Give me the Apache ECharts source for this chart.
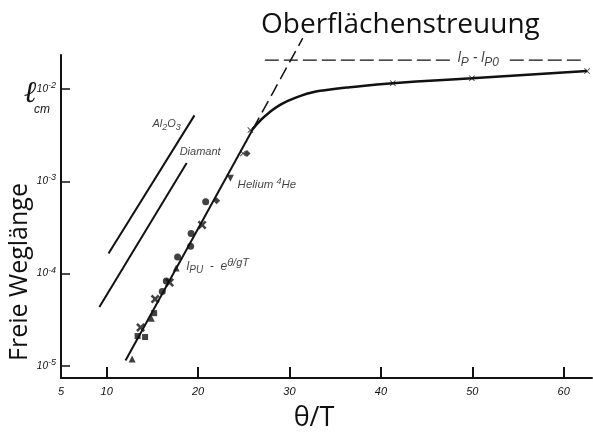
<!DOCTYPE html>
<html><head><meta charset="utf-8">
<script src="https://cdn.jsdelivr.net/npm/echarts@6/dist/echarts.min.js"></script>
<style>html,body{margin:0;padding:0;background:#fff}#c{width:593px;height:434px}</style>
</head><body><div id="c"></div>
<script>
// ---- data ----
const xTickValues = [10, 20, 30, 40, 50, 60];
const xLabelValues = [5, 10, 20, 30, 40, 50, 60];
const yTickValues = [1e-5, 1e-4, 1e-3, 1e-2];

const al2o3Line = [[10.2, 1.66e-4], [19.6, 5.2e-3]];
const diamantLine = [[9.2, 4.35e-5], [18.75, 1.58e-3]];
const puLine = [[12.06, 1.15e-5], [26.0, 3.69e-3]];
const surfaceDashed = [[26.0, 3.69e-3], [31.45, 3.57e-2]];
const lpLimitLeft = [[27.3, 2.06e-2], [48.0, 2.06e-2]];
const lpLimitRight = [[54.1, 2.06e-2], [62.1, 2.06e-2]];
const boundaryCurve = [[25.97, 3.69e-3], [26.96, 4.73e-3], [27.84, 5.64e-3], [28.93, 6.71e-3],
  [30.03, 7.60e-3], [31.12, 8.40e-3], [32.44, 9.20e-3], [33.86, 9.75e-3], [36.60, 1.05e-2],
  [41.31, 1.16e-2], [49.96, 1.31e-2], [62.56, 1.57e-2]];

const dotPoints = [[16.08, 6.40e-5], [16.52, 8.32e-5], [17.76, 1.52e-4], [19.18, 1.99e-4], [19.24, 2.73e-4], [20.83, 6.01e-4]];
const crossPoints = [[13.71, 2.61e-5], [15.30, 5.31e-5], [16.88, 8.02e-5], [20.44, 3.37e-4]];
const trianglePoints = [[12.78, 1.19e-5], [14.88, 3.30e-5], [17.60, 1.15e-4]];
const squarePoints = [[13.38, 2.11e-5], [14.20, 2.06e-5], [15.19, 3.74e-5]];
const diamondPoints = [[22.03, 6.19e-4], [25.35, 2.01e-3]];
const heliumPoints = [[23.53, 1.08e-3]];
const xMarkPoints = [[24.91, 2.01e-3], [25.72, 3.60e-3], [41.31, 1.16e-2], [49.96, 1.31e-2], [62.56, 1.57e-2]];

// annotation anchors [x, y, rich text]
const annotations = [
  [15.0, 4.18e-3, '{t|Al}{sub|2}{t|O}{sub|3}'],
  [17.98, 2.08e-3, '{t|Diamant}'],
  [24.32, 9.12e-4, '{m|Helium }{sup|4}{m|He}'],
  [18.74, 1.18e-4, '{u|l}{us|PU}{u|  -  e}{up|θ/gT}'],
  [48.4, 2.06e-2, '{L|l}{LS|P}{L| - l}{LS|P0}']
];

// ---- chart ----
const chart = echarts.init(document.getElementById('c'), null, {renderer: 'canvas'});
const FONT = 'Liberation Sans';
const it = (size, pad) => ({fontFamily: FONT, fontStyle: 'italic', fontSize: size, color: '#111', padding: pad || 0});
const richLbl = {
  t: it(11), sub: it(9, [6, 0, 0, 0]), sup: it(9, [0, 0, 7, 0]),
  m: it(11.5),
  u: it(12), us: it(10, [7, 0, 0, 0]), up: it(11, [0, 0, 9, 0]),
  L: it(14, [0, 0, 4, 0]), LS: it(12, [4, 0, 0, 0])
};
const crossPath = 'path://M0,2 L2,0 L5,3 L8,0 L10,2 L7,5 L10,8 L8,10 L5,7 L2,10 L0,8 L3,5 Z';
const thinX = 'path://M0,1 L1,0 L5,4 L9,0 L10,1 L6,5 L10,9 L9,10 L5,6 L1,10 L0,9 L4,5 Z';

const lineSeries = (data, w, extra) => Object.assign({
  type: 'line', data: data, symbol: 'none', silent: true,
  lineStyle: {color: '#111', width: w}
}, extra || {});
const scatterSeries = (data, symbol, size, extra) => Object.assign({
  type: 'scatter', data: data, symbol: symbol, symbolSize: size, silent: true,
  itemStyle: {color: '#111'}
}, extra || {});

chart.setOption({
  animation: false,
  backgroundColor: '#fff',
  grid: {left: 61, right: 1, top: 55, bottom: 56},
  xAxis: {
    type: 'value', min: 5, max: 63.1,
    axisLine: {lineStyle: {color: '#111', width: 2}},
    axisTick: {inside: true, length: 11, lineStyle: {color: '#111', width: 2}, customValues: xTickValues},
    axisLabel: {customValues: xLabelValues, fontFamily: FONT, fontStyle: 'italic', fontSize: 11, color: '#111', margin: 8},
    splitLine: {show: false}
  },
  yAxis: {
    type: 'log', logBase: 10, min: Math.pow(10, -5.13), max: Math.pow(10, -1.63),
    axisLine: {show: true, lineStyle: {color: '#111', width: 2}},
    axisTick: {show: true, inside: true, length: 9, lineStyle: {color: '#111', width: 1.5}, customValues: yTickValues},
    axisLabel: {
      customValues: yTickValues, margin: 5,
      formatter: v => '{b|10}{s|' + Math.round(Math.log10(v)) + '}',
      rich: {
        b: {fontFamily: FONT, fontStyle: 'italic', fontSize: 10, color: '#111'},
        s: {fontFamily: FONT, fontStyle: 'italic', fontSize: 9, color: '#111', padding: [0, 0, 7, 0]}
      }
    },
    splitLine: {show: false}
  },
  title: {
    text: 'Oberflächenstreuung', left: 256, top: 6,
    textStyle: {fontFamily: 'Open Sans', fontWeight: 'normal', fontSize: 28, color: '#111'}
  },
  graphic: [
    {type: 'text', x: 20, y: 272, rotation: Math.PI / 2,
     style: {text: 'Freie Weglänge', fontFamily: 'Open Sans', fontSize: 25, fill: '#111', align: 'center', verticalAlign: 'middle'}},
    {type: 'text', x: 314, y: 418,
     style: {text: 'θ/T', fontFamily: 'Open Sans', fontSize: 27, fill: '#111', align: 'center', verticalAlign: 'middle'}},
    {type: 'text', x: 30, y: 94,
     style: {text: 'ℓ', fontFamily: 'DejaVu Serif', fontStyle: 'italic', fontSize: 30, fill: '#111', align: 'center', verticalAlign: 'middle'}},
    {type: 'text', x: 42, y: 110,
     style: {text: 'cm', fontFamily: FONT, fontStyle: 'italic', fontSize: 12, fill: '#111', align: 'center', verticalAlign: 'middle'}}
  ],
  series: [
    lineSeries(al2o3Line, 2),
    lineSeries(diamantLine, 2),
    lineSeries(puLine, 2),
    lineSeries(surfaceDashed, 1.5, {clip: false, lineStyle: {color: '#111', width: 1.5, type: [13, 6]}}),
    lineSeries(lpLimitLeft, 1.2, {lineStyle: {color: '#111', width: 1.2, type: [14, 5]}}),
    lineSeries(lpLimitRight, 1.2, {lineStyle: {color: '#111', width: 1.2, type: [14, 5]}}),
    lineSeries(boundaryCurve, 2.5, {smooth: 0.5}),
    scatterSeries(dotPoints, 'circle', 7),
    scatterSeries(crossPoints, crossPath, 9),
    scatterSeries(trianglePoints, 'triangle', 7),
    scatterSeries(squarePoints, 'rect', 6),
    scatterSeries(diamondPoints, 'diamond', 7),
    scatterSeries(heliumPoints, 'triangle', 7, {symbolRotate: 180}),
    scatterSeries(xMarkPoints, thinX, 6),
    {
      type: 'scatter', silent: true, symbolSize: 0,
      data: annotations.map(a => ({value: [a[0], a[1]], labelText: a[2]})),
      label: {
        show: true, position: 'inside', align: 'left', verticalAlign: 'middle',
        formatter: p => p.data.labelText, rich: richLbl
      }
    }
  ]
});
</script></body></html>
